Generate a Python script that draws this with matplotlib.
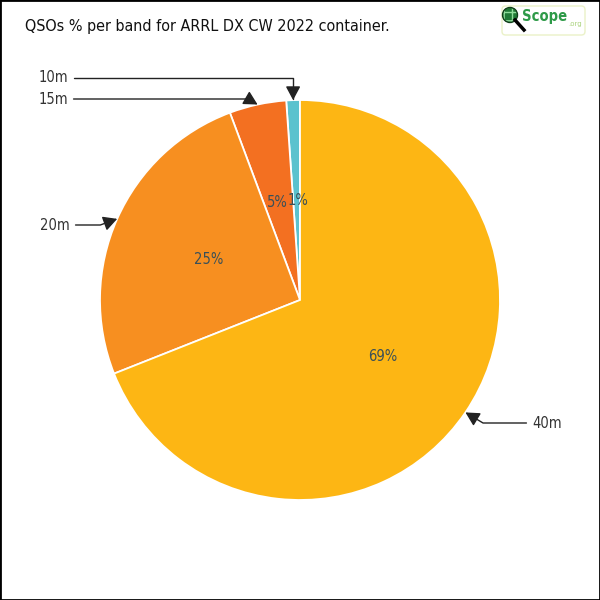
import matplotlib
matplotlib.use('Agg')
import matplotlib.pyplot as plt
import numpy as np
from matplotlib.patches import Rectangle, Circle, FancyBboxPatch
from matplotlib.lines import Line2D

bands = ['10m', '15m', '20m', '40m']
shares = [1.1, 4.6, 25.3, 69.0]
colors = ['#5BC2CE', '#F37021', '#F78F20', '#FDB614']
title = 'QSOs % per band for ARRL DX CW 2022 container.'

# label text positions (data coords), alignment and connector angle at the slice end
label_pos = {'10m': (-1.16, 1.11, 'right', 90),
             '15m': (-1.16, 1.005, 'right', 150),
             '20m': (-1.15, 0.375, 'right', 20),
             '40m': (1.16, -0.615, 'left', -31)}

fig = plt.figure(figsize=(6, 6), dpi=100)
ax = fig.add_axes([0, 0, 1, 1])
wedges, texts, autotexts = ax.pie(
    shares, colors=colors, startangle=90, counterclock=True, radius=1,
    autopct='%.0f%%', pctdistance=0.5,
    wedgeprops=dict(edgecolor='white', linewidth=1.3),
    textprops=dict(color='#3a5058', fontsize=10.5, family='DejaVu Sans',
                   stretch='condensed', weight='normal'))
ax.set_xlim(-1.5, 1.5)
ax.set_ylim(-1.5, 1.5)
ax.set_aspect('equal')
ax.axis('off')

# keep the two narrow-slice percentages side by side without overlapping
x0, y0 = autotexts[0].get_position()
autotexts[0].set_position((x0 + 0.008, y0))
x1, y1 = autotexts[1].get_position()
autotexts[1].set_position((x1 - 0.008, y1))

for w, band in zip(wedges, bands):
    mid = np.deg2rad((w.theta1 + w.theta2) / 2)
    xy = (np.cos(mid), np.sin(mid))
    tx, ty, ha, angB = label_pos[band]
    ax.annotate(band, xy=xy, xytext=(tx, ty), ha=ha, va='center',
                fontsize=10.5, family='DejaVu Sans', stretch='condensed',
                color='#333333',
                arrowprops=dict(arrowstyle='-|>,head_length=0.6,head_width=0.32',
                                connectionstyle=f'angle,angleA=0,angleB={angB},rad=0',
                                color='#222222', lw=1, shrinkA=2, shrinkB=0,
                                mutation_scale=14))

fig.text(25 / 600, 1 - 27 / 600, title, fontsize=11.5, va='center', ha='left',
         family='DejaVu Sans', stretch='condensed', color='#111111')

# logo
fig.patches.append(FancyBboxPatch((502 / 600, 1 - 35 / 600), 83 / 600, 29 / 600,
                                  boxstyle='round,pad=0,rounding_size=0.006',
                                  transform=fig.transFigure, facecolor='white',
                                  edgecolor='#eaf1c8', lw=1))
fig.lines.append(Line2D([515 / 600, 524 / 600], [1 - 20 / 600, 1 - 30 / 600],
                        transform=fig.transFigure, color='black', lw=2.5))
fig.patches.append(Circle((510 / 600, 1 - 15 / 600), 7.5 / 600,
                          transform=fig.transFigure, facecolor='#1f7a35',
                          edgecolor='#8fdc9a', hatch='++', lw=0.6))
fig.patches.append(Circle((510 / 600, 1 - 15 / 600), 7.5 / 600,
                          transform=fig.transFigure, facecolor='none',
                          edgecolor='#113d1a', lw=1))
fig.text(522 / 600, 1 - 17 / 600, 'Scope', fontsize=10.5, weight='bold',
         stretch='condensed', color='#2e9a48', va='center', ha='left',
         family='DejaVu Sans')
fig.text(582 / 600, 1 - 24 / 600, '.org', fontsize=5, color='#a9d27c',
         va='center', ha='right')

# border
fig.patches.append(Rectangle((0, 0), 1, 1, transform=fig.transFigure,
                             facecolor='none', edgecolor='black', lw=2))

fig.savefig('out.png', dpi=100)
